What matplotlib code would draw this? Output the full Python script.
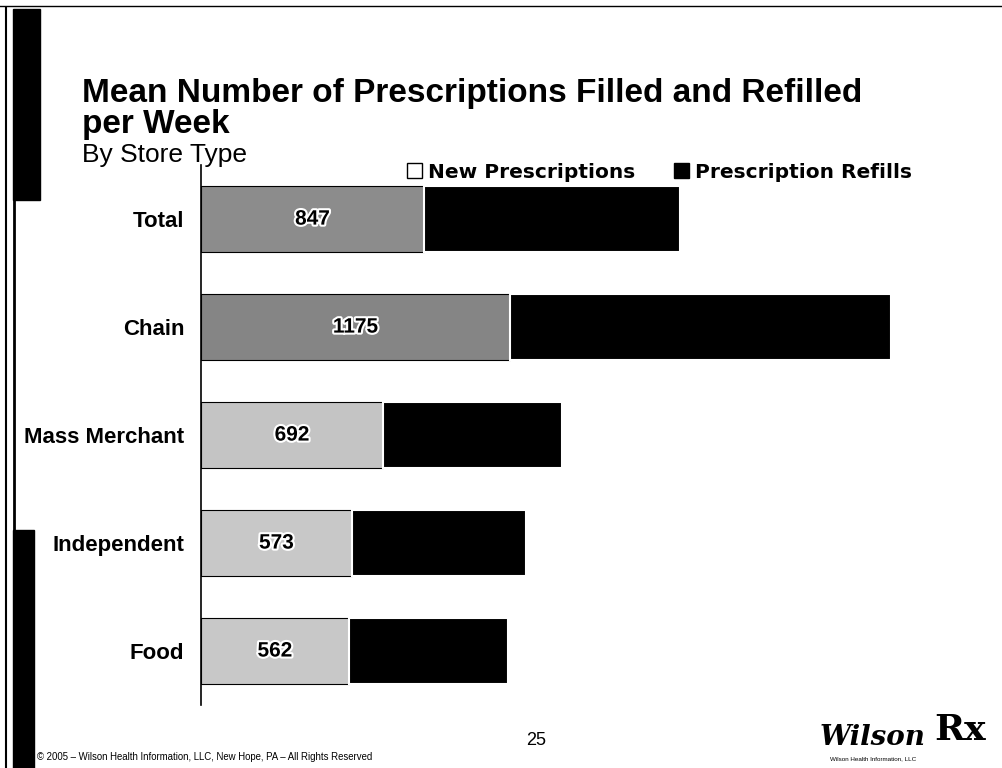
import matplotlib.pyplot as plt
from matplotlib.patches import Patch, Rectangle
from matplotlib.lines import Line2D
import matplotlib.patheffects as pe

# Mean weekly prescriptions by store type
stores = ['Total', 'Chain', 'Mass Merchant', 'Independent', 'Food']
new_rx = [847, 1175, 692, 573, 562]
refills = [973, 1448, 680, 661, 604]
new_colors = ['#8c8c8c', '#858585', '#c4c4c4', '#c8c8c8', '#c8c8c8']

plt.rcParams['font.family'] = ['Liberation Sans', 'DejaVu Sans']

fig = plt.figure(figsize=(10.02, 7.68), dpi=100)
ax = fig.add_axes([0.2006, 0.082, 0.7355, 0.703])

y = list(range(len(stores)))
ax.barh(y, new_rx, height=0.61, color=new_colors, edgecolor='black', linewidth=0.8)
ax.barh(y, refills, left=new_rx, height=0.61, color='black', edgecolor='white', linewidth=1.5)

# value labels sit in the middle of the new prescription segment
for i, v in enumerate(new_rx):
    ax.text(v / 2, i, str(v), ha='center', va='center', fontsize=15, fontweight='bold',
            color='black', path_effects=[pe.withStroke(linewidth=3, foreground='white')])

ax.set_xlim(0, 2800)
ax.set_ylim(4.5, -0.5)
ax.set_yticks(y)
ax.set_yticklabels(stores, fontsize=16, fontweight='bold')
ax.tick_params(axis='y', length=0, pad=12)
ax.set_xticks([])
for side in ['top', 'right', 'bottom']:
    ax.spines[side].set_visible(False)
ax.spines['left'].set_linewidth(1.2)

# legend
handles = [Patch(facecolor='white', edgecolor='black', linewidth=1, label='New Prescriptions'),
           Patch(facecolor='black', edgecolor='black', label='Prescription Refills')]
fig.legend(handles=handles, loc='center left', bbox_to_anchor=(0.388, 0.776), ncol=2,
           frameon=False, prop={'weight': 'bold', 'size': 14.5, 'family': 'DejaVu Sans'},
           handlelength=0.75, handleheight=0.75, handletextpad=0.3, columnspacing=1.9)

# titles
fig.text(0.082, 0.858, 'Mean Number of Prescriptions Filled and Refilled\nper Week',
         fontsize=24, fontweight='bold', va='center', ha='left', linespacing=0.98)
fig.text(0.082, 0.798, 'By Store Type', fontsize=19, va='center', ha='left')

# slide decorations
fig.add_artist(Rectangle((0.013, 0.74), 0.027, 0.248, transform=fig.transFigure,
                         color='black'))
fig.add_artist(Rectangle((0.013, 0.0), 0.021, 0.31, transform=fig.transFigure,
                         color='black'))
fig.add_artist(Line2D([0.006, 0.006], [0.0, 0.99], transform=fig.transFigure,
                      color='black', linewidth=1.5))
fig.add_artist(Line2D([0.014, 0.014], [0.3, 0.75], transform=fig.transFigure,
                      color='black', linewidth=2))
fig.add_artist(Line2D([0.0, 1.0], [0.992, 0.992], transform=fig.transFigure,
                      color='black', linewidth=1))

# footer
fig.text(0.037, 0.014, '\u00a9 2005 \u2013 Wilson Health Information, LLC, New Hope, PA \u2013 All Rights Reserved',
         fontsize=6.9, va='center', ha='left')
fig.text(0.535, 0.036, '25', fontsize=13, va='center', ha='center')
fig.text(0.818, 0.04, 'Wilson', fontsize=20, fontstyle='italic', fontweight='bold',
         family=['DejaVu Serif'], va='center', ha='left')
fig.text(0.932, 0.05, 'Rx', fontsize=26, fontweight='bold', family=['DejaVu Serif'],
         va='center', ha='left')
fig.text(0.828, 0.012, 'Wilson Health Information, LLC', fontsize=4.5, va='center', ha='left')

fig.savefig('out.png', dpi=100)
